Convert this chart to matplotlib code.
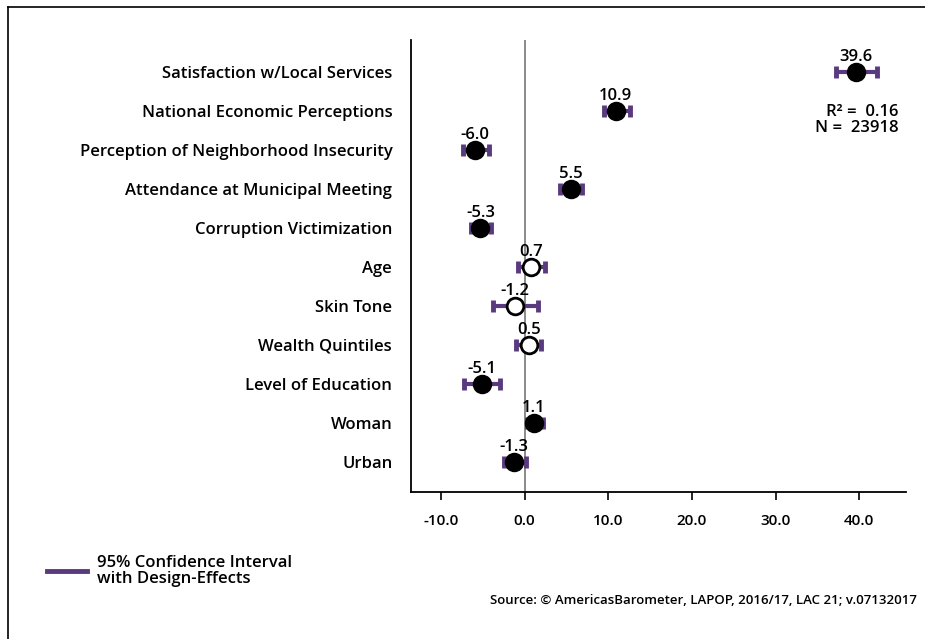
import matplotlib
matplotlib.use("Agg")
import matplotlib.pyplot as plt
import numpy as np

plt.rcParams['font.family'] = ['Open Sans', 'DejaVu Sans']

# datos del grafico
categorias = ["Satisfaction w/Local Services", "National Economic Perceptions",
              "Perception of Neighborhood Insecurity", "Attendance at Municipal Meeting",
              "Corruption Victimization", "Age", "Skin Tone", "Wealth Quintiles",
              "Level of Education", "Woman", "Urban"]
coef = [39.6, 10.9, -6.0, 5.5, -5.3, 0.7, -1.2, 0.5, -5.1, 1.1, -1.3]
ci_bajo = [37.2, 9.5, -7.4, 4.2, -6.4, -0.8, -3.8, -1.0, -7.3, 0.3, -2.5]
ci_alto = [42.1, 12.6, -4.3, 6.9, -4.0, 2.4, 1.6, 2.0, -2.9, 2.2, 0.1]
significativo = [True, True, True, True, True, False, False, False, True, True, True]
xticks = [-10, 0, 10, 20, 30, 40]

morado = "#5a3a7e"

fig = plt.figure(figsize=(9.25, 6.39), dpi=100)
ax = fig.add_axes([411/925, 1-492/639, (906-411)/925, (492-40)/639])

y = np.arange(len(categorias))
ax.axvline(0, color="#777777", lw=1.2, zorder=1)
ax.hlines(y, ci_bajo, ci_alto, color=morado, lw=3, zorder=2)
ax.plot(ci_bajo, y, ls="none", marker="|", ms=9, mew=3.5, color=morado, zorder=2)
ax.plot(ci_alto, y, ls="none", marker="|", ms=9, mew=3.5, color=morado, zorder=2)

for i in range(len(coef)):
    cara = "black" if significativo[i] else "white"
    ax.plot(coef[i], y[i], "o", ms=12, mfc=cara, mec="black", mew=2, zorder=3)
    ax.text(coef[i], y[i] - 0.17, f"{coef[i]:.1f}", ha="center", va="bottom",
            fontsize=12, fontweight="semibold", zorder=4)

ax.set_ylim(10.77, -0.82)
ax.set_xlim(-13.6, 45.6)
ax.set_yticks(y)
ax.set_yticklabels(categorias, fontsize=12, fontweight="semibold")
ax.tick_params(axis="y", length=0, pad=13.5)
ax.set_xticks(xticks)
ax.set_xticklabels([f"{v:.1f}" for v in xticks], fontsize=11, fontweight="semibold")
ax.tick_params(axis="x", length=6, width=1.2, pad=10, direction="out")
ax.spines["top"].set_visible(False)
ax.spines["right"].set_visible(False)
ax.spines["left"].set_linewidth(1.3)
ax.spines["bottom"].set_linewidth(1.3)

ax.text(0.985, 0.822, "R\u00b2 =  0.16\nN =  23918", transform=ax.transAxes, ha="right",
        va="center", multialignment="right", fontsize=12, fontweight="semibold",
        linespacing=1.0)

# leyenda
fig.add_artist(plt.Line2D([47/925, 87/925], [1-571/639]*2, color=morado, lw=3.5))
fig.text(97/925, 1-571/639, "95% Confidence Interval\nwith Design-Effects",
         ha="left", va="center", fontsize=12, fontweight="semibold", linespacing=0.95)
fig.text(917/925, 1-600/639, "Source: \u00a9 AmericasBarometer, LAPOP, 2016/17, LAC 21; v.07132017",
         ha="right", va="center", fontsize=9.5, fontweight="semibold")

# marco
fig.add_artist(plt.Line2D([8/925, 1], [1-7/639]*2, color="black", lw=1.2))
fig.add_artist(plt.Line2D([8/925]*2, [0, 1-7/639], color="black", lw=1.2))

fig.savefig("out.png", dpi=100)
